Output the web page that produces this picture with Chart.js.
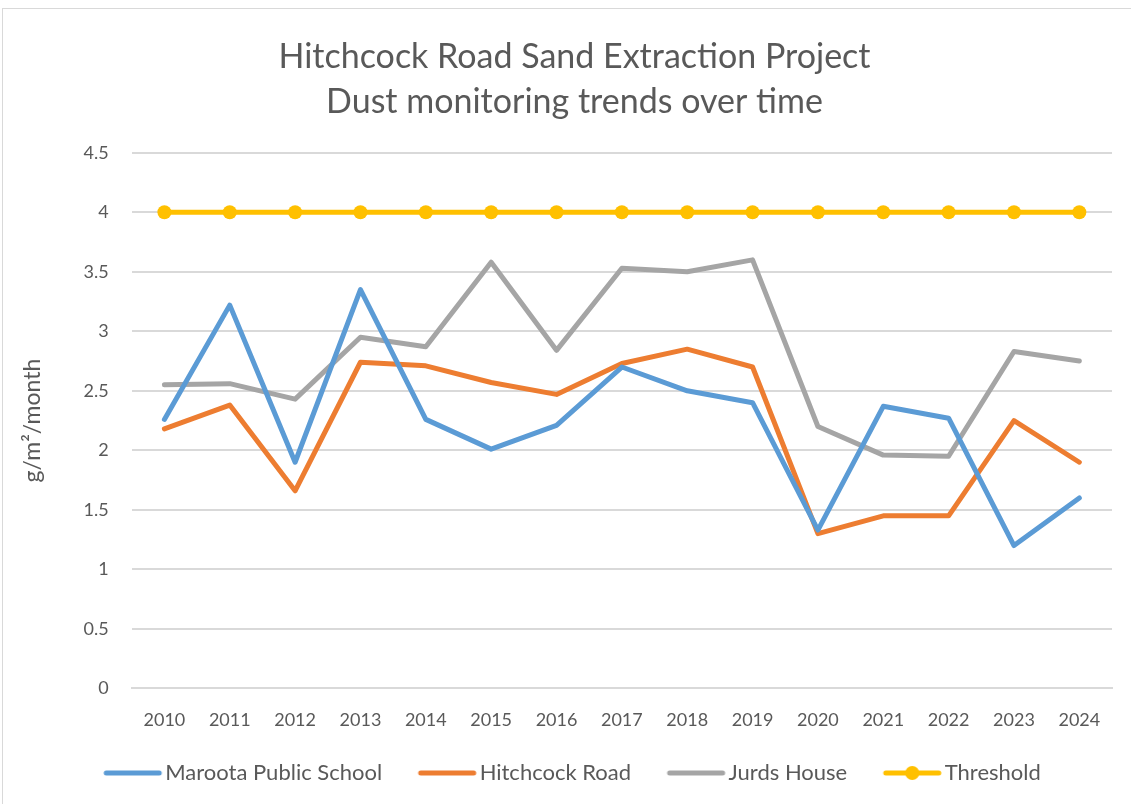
<!DOCTYPE html>
<html>
  <head>
    <title>Dust monitoring</title>
    <script src="https://cdn.jsdelivr.net/npm/chart.js@4"></script>
    <style>
      body { margin: 0; background: #fff; overflow: hidden; }
      #box { position: absolute; left: 2px; top: 8px; width: 1200px; height: 900px; border-left: 1px solid #d9d9d9; border-top: 1px solid #d9d9d9; }
      #wrap { position: absolute; left: 0; top: 0; width: 1131px; height: 804px; }
    </style>
    <script>
    // data
    var years = ['2010','2011','2012','2013','2014','2015','2016','2017','2018','2019','2020','2021','2022','2023','2024'];
    var maroota = [2.26, 3.22, 1.9, 3.35, 2.26, 2.01, 2.21, 2.7, 2.5, 2.4, 1.33, 2.37, 2.27, 1.2, 1.6];
    var hitchcock = [2.18, 2.38, 1.66, 2.74, 2.71, 2.57, 2.47, 2.73, 2.85, 2.7, 1.3, 1.45, 1.45, 2.25, 1.9];
    var jurds = [2.55, 2.56, 2.43, 2.95, 2.87, 3.58, 2.84, 3.53, 3.5, 3.6, 2.2, 1.96, 1.95, 2.83, 2.75];
    var threshold = [4, 4, 4, 4, 4, 4, 4, 4, 4, 4, 4, 4, 4, 4, 4];

    var FONT = 'Lato, "Open Sans", sans-serif';
    var GREY = '#595959';

    // legend swatch: a short thick line, with a dot for the threshold
    // (drawn right of centre so it sits close to the text)
    function swatch(color, dot)
    {
      var c = document.createElement('canvas');
      c.width = 64; c.height = 16;
      var g = c.getContext('2d');
      g.strokeStyle = color;
      g.lineWidth = 5;
      g.lineCap = 'round';
      g.beginPath();
      g.moveTo(7, 8); g.lineTo(60, 8);
      g.stroke();
      if (dot) {
        g.fillStyle = color;
        g.beginPath();
        g.arc(33.5, 8, 7, 0, Math.PI * 2);
        g.fill();
      }
      return c;
    }

    // the original chart is cropped on the right, so title + legend sit a bit right of centre
    var nudge = {
      id: 'nudge',
      afterLayout: function (chart) {
        [chart.titleBlock, chart.legend].forEach(function (b) {
          if (b) { b.left += 11; b.right += 11; }
        });
      }
    };

    function start()
    {
      var ctx = document.getElementById('dustChart').getContext('2d');

      var series = [
        { label: 'Maroota Public School', data: maroota, color: '#5b9bd5', dot: false },
        { label: 'Hitchcock Road', data: hitchcock, color: '#ed7d31', dot: false },
        { label: 'Jurds House', data: jurds, color: '#a5a5a5', dot: false },
        { label: 'Threshold', data: threshold, color: '#ffc000', dot: true }
      ];

      var chart = new Chart(ctx, {
        type: 'line',
        data: {
          labels: years,
          datasets: series.map(function (s) {
            return {
              label: s.label,
              data: s.data,
              borderColor: s.color,
              backgroundColor: s.color,
              borderWidth: 5,
              tension: 0,
              pointRadius: s.dot ? 7 : 0,
              pointHoverRadius: s.dot ? 7 : 0,
              pointBorderWidth: 0,
              pointStyle: 'circle',
              borderJoinStyle: 'round',
              borderCapStyle: 'round'
            };
          })
        },
        plugins: [nudge],
        options: {
          responsive: false,
          animation: false,
          layout: { padding: { left: 15, right: 19, top: 35, bottom: 10 } },
          plugins: {
            title: {
              display: true,
              text: ['Hitchcock Road Sand Extraction Project', 'Dust monitoring trends over time'],
              color: GREY,
              font: { family: FONT, size: 34, weight: 'normal', lineHeight: 1.32 },
              padding: { top: 0, bottom: 28 }
            },
            legend: {
              position: 'bottom',
              labels: {
                usePointStyle: true,
                pointStyleWidth: 46,
                color: GREY,
                font: { family: FONT, size: 22 },
                padding: 18,
                generateLabels: function (c) {
                  var n = c.data.datasets.length;
                  return c.data.datasets.map(function (d, i) {
                    // trailing spaces widen the gap between entries
                    var pad = i < n - 1 ? '    ' : '';
                    return {
                      text: d.label + pad,
                      pointStyle: swatch(d.borderColor, i === n - 1),
                      fontColor: GREY,
                      strokeStyle: d.borderColor,
                      fillStyle: d.borderColor,
                      lineWidth: 0,
                      datasetIndex: i
                    };
                  });
                }
              }
            },
            tooltip: { enabled: false }
          },
          scales: {
            x: {
              offset: true,
              grid: { display: false },
              border: { display: true, color: '#d9d9d9', width: 2 },
              ticks: { color: GREY, font: { family: FONT, size: 18 }, padding: 13 }
            },
            y: {
              min: 0,
              max: 4.5,
              ticks: {
                stepSize: 0.5,
                color: GREY,
                font: { family: FONT, size: 18 },
                padding: 23,
                callback: function (v) { return String(v); }
              },
              grid: { color: '#d9d9d9', lineWidth: 2, drawTicks: false },
              border: { display: false },
              title: {
                display: true,
                text: 'g/m²/month',
                color: GREY,
                font: { family: FONT, size: 23 },
                padding: { bottom: 14 }
              }
            }
          }
        }
      });
    }
    </script>
  </head>
  <body onload="start()">
    <div id="box"></div>
    <div id="wrap">
      <canvas id="dustChart" width="1131" height="804"></canvas>
    </div>
  </body>
</html>
